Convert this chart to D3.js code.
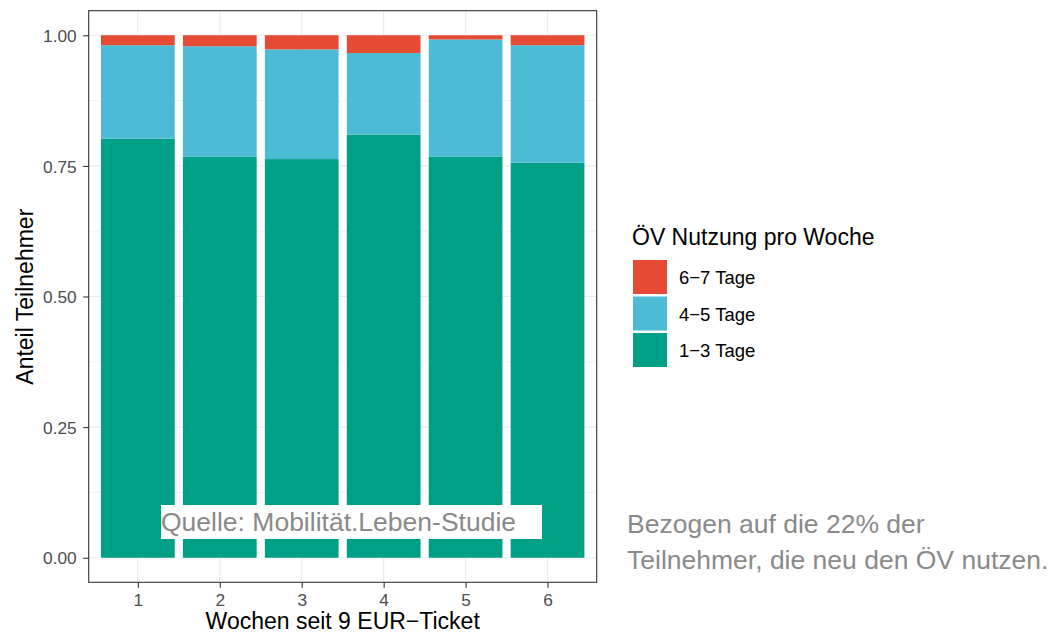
<!DOCTYPE html>
<html>
<head>
<meta charset="utf-8">
<script src="https://cdn.jsdelivr.net/npm/d3@7"></script>
<style>
  body { margin: 0; background: #fff; }
  text { font-family: "Liberation Sans", Arial, sans-serif; }
</style>
</head>
<body>
<div id="chart"></div>
<script>
// data (share of participants per week)
var weeks = ["1", "2", "3", "4", "5", "6"];
var tage13 = [0.802, 0.768, 0.763, 0.810, 0.768, 0.756];
var tage45 = [0.179, 0.211, 0.210, 0.156, 0.224, 0.225];
var tage67 = [0.019, 0.021, 0.027, 0.034, 0.008, 0.019];
var groups = ["1\u22123 Tage", "4\u22125 Tage", "6\u22127 Tage"];
var colors = ["#00A087", "#4DBBD5", "#E64B35"];
var yTicks = [0, 0.25, 0.5, 0.75, 1];

var W = 1052, H = 636;
var margin = {top: 10.7, right: 455.3, bottom: 53.7, left: 88.7};
var width = W - margin.left - margin.right;
var height = H - margin.top - margin.bottom;

var svg = d3.select("#chart").append("svg")
    .attr("width", W)
    .attr("height", H);

var g = svg.append("g")
    .attr("transform", "translate(" + margin.left + "," + margin.top + ")");

// discrete x scale with ggplot-like 0.6 expansion
var x = d3.scaleLinear()
    .domain([0.4, weeks.length + 0.6])
    .range([0, width]);
var y = d3.scaleLinear()
    .domain([-0.047, 1.047])
    .range([height, 0]);

// grid
var minor = [0.125, 0.375, 0.625, 0.875];
g.selectAll(".minor").data(minor).enter().append("line")
    .attr("x1", 0).attr("x2", width)
    .attr("y1", function(d) { return y(d); })
    .attr("y2", function(d) { return y(d); })
    .attr("stroke", "#ebebeb").attr("stroke-width", 0.6);
g.selectAll(".hmajor").data(yTicks).enter().append("line")
    .attr("x1", 0).attr("x2", width)
    .attr("y1", function(d) { return y(d); })
    .attr("y2", function(d) { return y(d); })
    .attr("stroke", "#ebebeb").attr("stroke-width", 1.2);
g.selectAll(".vmajor").data(weeks).enter().append("line")
    .attr("y1", 0).attr("y2", height)
    .attr("x1", function(d, i) { return x(i + 1); })
    .attr("x2", function(d, i) { return x(i + 1); })
    .attr("stroke", "#ebebeb").attr("stroke-width", 1.2);

// stacked bars
var rows = weeks.map(function(w, i) {
    return {week: i + 1, a: tage13[i], b: tage45[i], c: tage67[i]};
});
var stack = d3.stack().keys(["a", "b", "c"]);
var series = stack(rows);

g.selectAll(".layer").data(series).enter().append("g")
    .attr("fill", function(d, i) { return colors[i]; })
    .selectAll("rect").data(function(d) { return d; }).enter().append("rect")
    .attr("x", function(d) { return x(d.data.week - 0.45); })
    .attr("width", x(0.9) - x(0))
    .attr("y", function(d) { return y(d[1]); })
    .attr("height", function(d) { return y(d[0]) - y(d[1]); });

// source label inside the panel
var srcLeft = 161 - margin.left, srcTop = 505 - margin.top;
g.append("rect")
    .attr("x", srcLeft)
    .attr("y", srcTop)
    .attr("width", 381)
    .attr("height", 34)
    .attr("fill", "#fff");
g.append("text")
    .attr("x", srcLeft)
    .attr("y", srcTop + 26)
    .attr("font-size", 26.5)
    .attr("fill", "#8a8a8a")
    .text("Quelle: Mobilit\u00e4t.Leben-Studie");

// panel border
g.append("rect")
    .attr("width", width).attr("height", height)
    .attr("fill", "none").attr("stroke", "#333").attr("stroke-width", 1.1);

// axes
var yAxis = g.append("g")
    .call(d3.axisLeft(y).tickValues(yTicks).tickFormat(d3.format(".2f")).tickSize(5.5));
var xAxis = g.append("g")
    .attr("transform", "translate(0," + height + ")")
    .call(d3.axisBottom(x).tickValues([1, 2, 3, 4, 5, 6]).tickFormat(function(d) { return weeks[d - 1]; }).tickSize(5.5));
[yAxis, xAxis].forEach(function(a) {
    a.select(".domain").remove();
    a.selectAll("line").attr("stroke", "#333").attr("stroke-width", 1.1);
    a.selectAll("text").attr("fill", "#4d4d4d").attr("font-size", 17.3)
        .style("font-family", "Liberation Sans, Arial, sans-serif");
});
yAxis.selectAll("text").attr("x", -12).attr("dy", "0.36em");
xAxis.selectAll("text").attr("y", 11).attr("dy", "0.72em");

// axis titles
svg.append("text")
    .attr("x", margin.left + width / 2)
    .attr("y", 629)
    .attr("text-anchor", "middle")
    .attr("font-size", 23)
    .attr("fill", "#000")
    .text("Wochen seit 9 EUR\u2212Ticket");
svg.append("text")
    .attr("transform", "translate(33," + 296.7 + ") rotate(-90)")
    .attr("text-anchor", "middle")
    .attr("font-size", 23)
    .attr("fill", "#000")
    .text("Anteil Teilnehmer");

// legend
var legend = svg.append("g").attr("transform", "translate(633,0)");
legend.append("text")
    .attr("x", -1).attr("y", 245)
    .attr("font-size", 23)
    .text("\u00d6V Nutzung pro Woche");
var legendItems = [2, 1, 0];
legendItems.forEach(function(k, j) {
    legend.append("rect")
        .attr("x", 0).attr("y", 260 + j * 36.5)
        .attr("width", 34).attr("height", 34)
        .attr("fill", colors[k]);
    legend.append("text")
        .attr("x", 46).attr("y", 284 + j * 36.5)
        .attr("font-size", 18.5)
        .text(groups[k]);
});

// note on the right
var note = svg.append("text")
    .attr("x", 627)
    .attr("font-size", 26.5)
    .attr("fill", "#8a8a8a");
note.append("tspan").attr("x", 627).attr("y", 533).text("Bezogen auf die 22% der");
note.append("tspan").attr("x", 627).attr("y", 569).text("Teilnehmer, die neu den \u00d6V nutzen.");
</script>
</body>
</html>
